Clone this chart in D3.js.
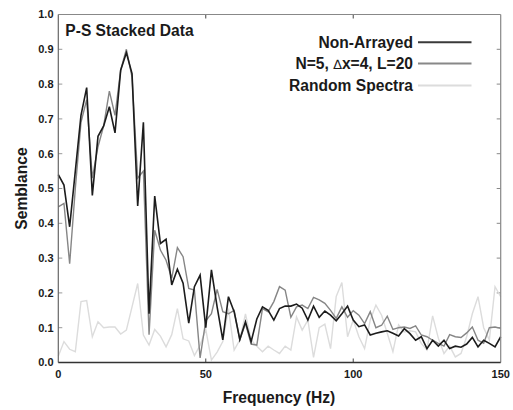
<!DOCTYPE html>
<html><head><meta charset="utf-8">
<script src="https://cdn.jsdelivr.net/npm/d3@7"></script>
<style>body{margin:0;background:#fff}svg{display:block}text{font-family:"Liberation Sans",Arial,sans-serif;font-weight:bold;fill:#1a1a1a}</style>
</head><body><svg id="c" width="513" height="410"></svg>
<script>
const freqs = [0,1.92,3.85,5.77,7.69,9.62,11.54,13.46,15.38,17.31,19.23,21.15,23.08,25.0,26.92,28.85,30.77,32.69,34.62,36.54,38.46,40.38,42.31,44.23,46.15,48.08,50.0,51.92,53.85,55.77,57.69,59.62,61.54,63.46,65.38,67.31,69.23,71.15,73.08,75.0,76.92,78.85,80.77,82.69,84.62,86.54,88.46,90.38,92.31,94.23,96.15,98.08,100.0,101.92,103.85,105.77,107.69,109.62,111.54,113.46,115.38,117.31,119.23,121.15,123.08,125.0,126.92,128.85,130.77,132.69,134.62,136.54,138.46,140.38,142.31,144.23,146.15,148.08,150.0];
const nonArrayed = [0.54,0.51,0.39,0.55,0.71,0.79,0.48,0.65,0.68,0.735,0.66,0.84,0.89,0.83,0.45,0.69,0.14,0.478,0.342,0.354,0.223,0.268,0.228,0.113,0.218,0.251,0.1,0.266,0.16,0.065,0.189,0.146,0.066,0.117,0.06,0.125,0.16,0.15,0.122,0.155,0.162,0.162,0.168,0.156,0.122,0.162,0.13,0.148,0.136,0.12,0.14,0.162,0.122,0.103,0.108,0.079,0.084,0.088,0.091,0.084,0.076,0.097,0.083,0.064,0.074,0.04,0.064,0.047,0.064,0.04,0.047,0.044,0.053,0.072,0.045,0.064,0.055,0.045,0.074];
const arrayed = [0.447,0.457,0.284,0.5,0.69,0.755,0.53,0.62,0.68,0.78,0.71,0.84,0.9,0.82,0.53,0.55,0.08,0.38,0.323,0.294,0.242,0.33,0.304,0.213,0.208,0.013,0.12,0.14,0.21,0.146,0.14,0.15,0.065,0.112,0.053,0.05,0.155,0.146,0.175,0.218,0.208,0.13,0.16,0.165,0.155,0.187,0.18,0.17,0.15,0.127,0.16,0.13,0.149,0.136,0.112,0.146,0.1,0.107,0.133,0.095,0.1,0.102,0.098,0.105,0.079,0.074,0.064,0.055,0.047,0.08,0.074,0.072,0.085,0.102,0.064,0.055,0.1,0.102,0.098];
const randomSpectra = [0.018,0.06,0.038,0.031,0.175,0.178,0.074,0.117,0.1,0.102,0.102,0.082,0.093,0.16,0.227,0.079,0.05,0.095,0.076,0.045,0.08,0.155,0.068,0.062,0.02,0.05,0.095,0.007,0.03,0.06,0.155,0.036,0.065,0.14,0.065,0.047,0.031,0.047,0.036,0.026,0.047,0.036,0.131,0.093,0.122,0.015,0.1,0.11,0.04,0.19,0.23,0.074,0.122,0.074,0.04,0.122,0.165,0.136,0.084,0.031,0.108,0.088,0.091,0.088,0.055,0.036,0.134,0.07,0.026,0.047,0.016,0.026,0.074,0.14,0.189,0.1,0.065,0.218,0.189];
const seriesNames = ["Non-Arrayed","N=5, \u2206x=4, L=20","Random Spectra"];
const xTicks = [0,50,100,150];
const yTicks = [0,0.1,0.2,0.3,0.4,0.5,0.6,0.7,0.8,0.9,1.0];

const svg = d3.select("#c");
const L=58.3, R=500.7, T=14.5, B=362.5;
const x = d3.scaleLinear().domain([0,150]).range([L,R]);
const y = d3.scaleLinear().domain([0,1]).range([B,T]);

// inner ticks
const gT = svg.append("g");
yTicks.slice(1,-1).forEach(v=>{
  gT.append("line").attr("x1",L).attr("x2",L+4).attr("y1",y(v)).attr("y2",y(v)).attr("stroke","#999").attr("stroke-width",1);
  gT.append("line").attr("x1",R-4).attr("x2",R).attr("y1",y(v)).attr("y2",y(v)).attr("stroke","#888").attr("stroke-width",1);
});
[50,100].forEach(v=>{
  gT.append("line").attr("x1",x(v)).attr("x2",x(v)).attr("y1",T).attr("y2",T+4).attr("stroke","#444").attr("stroke-width",1);
  gT.append("line").attr("x1",x(v)).attr("x2",x(v)).attr("y1",B).attr("y2",B-4).attr("stroke","#444").attr("stroke-width",1);
});

const line = d3.line().x((d,i)=>x(freqs[i])).y(d=>y(d));
const data = [[randomSpectra,"#dcdcdc",1.4],[arrayed,"#868686",1.4],[nonArrayed,"#1c1c1c",1.6]];
data.forEach(([s,c,w])=>{
  svg.append("path").datum(s).attr("d",line).attr("fill","none").attr("stroke",c).attr("stroke-width",w).attr("stroke-linejoin","miter");
});

// frame
svg.append("line").attr("x1",L).attr("x2",R).attr("y1",T).attr("y2",T).attr("stroke","#888").attr("stroke-width",1.2);
svg.append("line").attr("x1",R).attr("x2",R).attr("y1",T).attr("y2",B).attr("stroke","#888").attr("stroke-width",1.2);
svg.append("line").attr("x1",L).attr("x2",L).attr("y1",T).attr("y2",B).attr("stroke","#666").attr("stroke-width",1.2);
svg.append("line").attr("x1",L).attr("x2",R).attr("y1",B).attr("y2",B).attr("stroke","#333").attr("stroke-width",1.3);

// tick labels
yTicks.forEach(v=>{
  svg.append("text").attr("x",53.5).attr("y",y(v)).attr("dy","0.36em").attr("text-anchor","end").style("font-size","11px").text(v.toFixed(1));
});
xTicks.forEach(v=>{
  svg.append("text").attr("x",x(v)).attr("y",378).attr("text-anchor","middle").style("font-size","11px").text(v);
});

svg.append("text").attr("x",279).attr("y",403).attr("text-anchor","middle").style("font-size","15.6px").text("Frequency (Hz)");
svg.append("text").attr("transform","translate(27,188.5) rotate(-90)").attr("text-anchor","middle").style("font-size","15.6px").text("Semblance");
svg.append("text").attr("x",65.3).attr("y",35.5).style("font-size","15.6px").text("P-S Stacked Data");

// legend
const legColors = ["#3a3a3a","#888","#dcdcdc"];
const legY = [42.3,63.5,85.5];
seriesNames.forEach((n,i)=>{
  const t = svg.append("text").attr("x",413).attr("y",legY[i]).attr("dy","0.36em").attr("text-anchor","end").style("font-size","15.6px");
  if(n.indexOf("\u2206")>=0){
    const parts = n.split("\u2206");
    t.append("tspan").text(parts[0]);
    t.append("tspan").style("font-weight","normal").style("font-family","DejaVu Sans").style("font-size","13px").text("\u2206");
    t.append("tspan").text(parts[1]);
  } else t.text(n);
  svg.append("line").attr("x1",418).attr("x2",471.5).attr("y1",legY[i]).attr("y2",legY[i]).attr("stroke",legColors[i]).attr("stroke-width",2);
});
</script></body></html>
